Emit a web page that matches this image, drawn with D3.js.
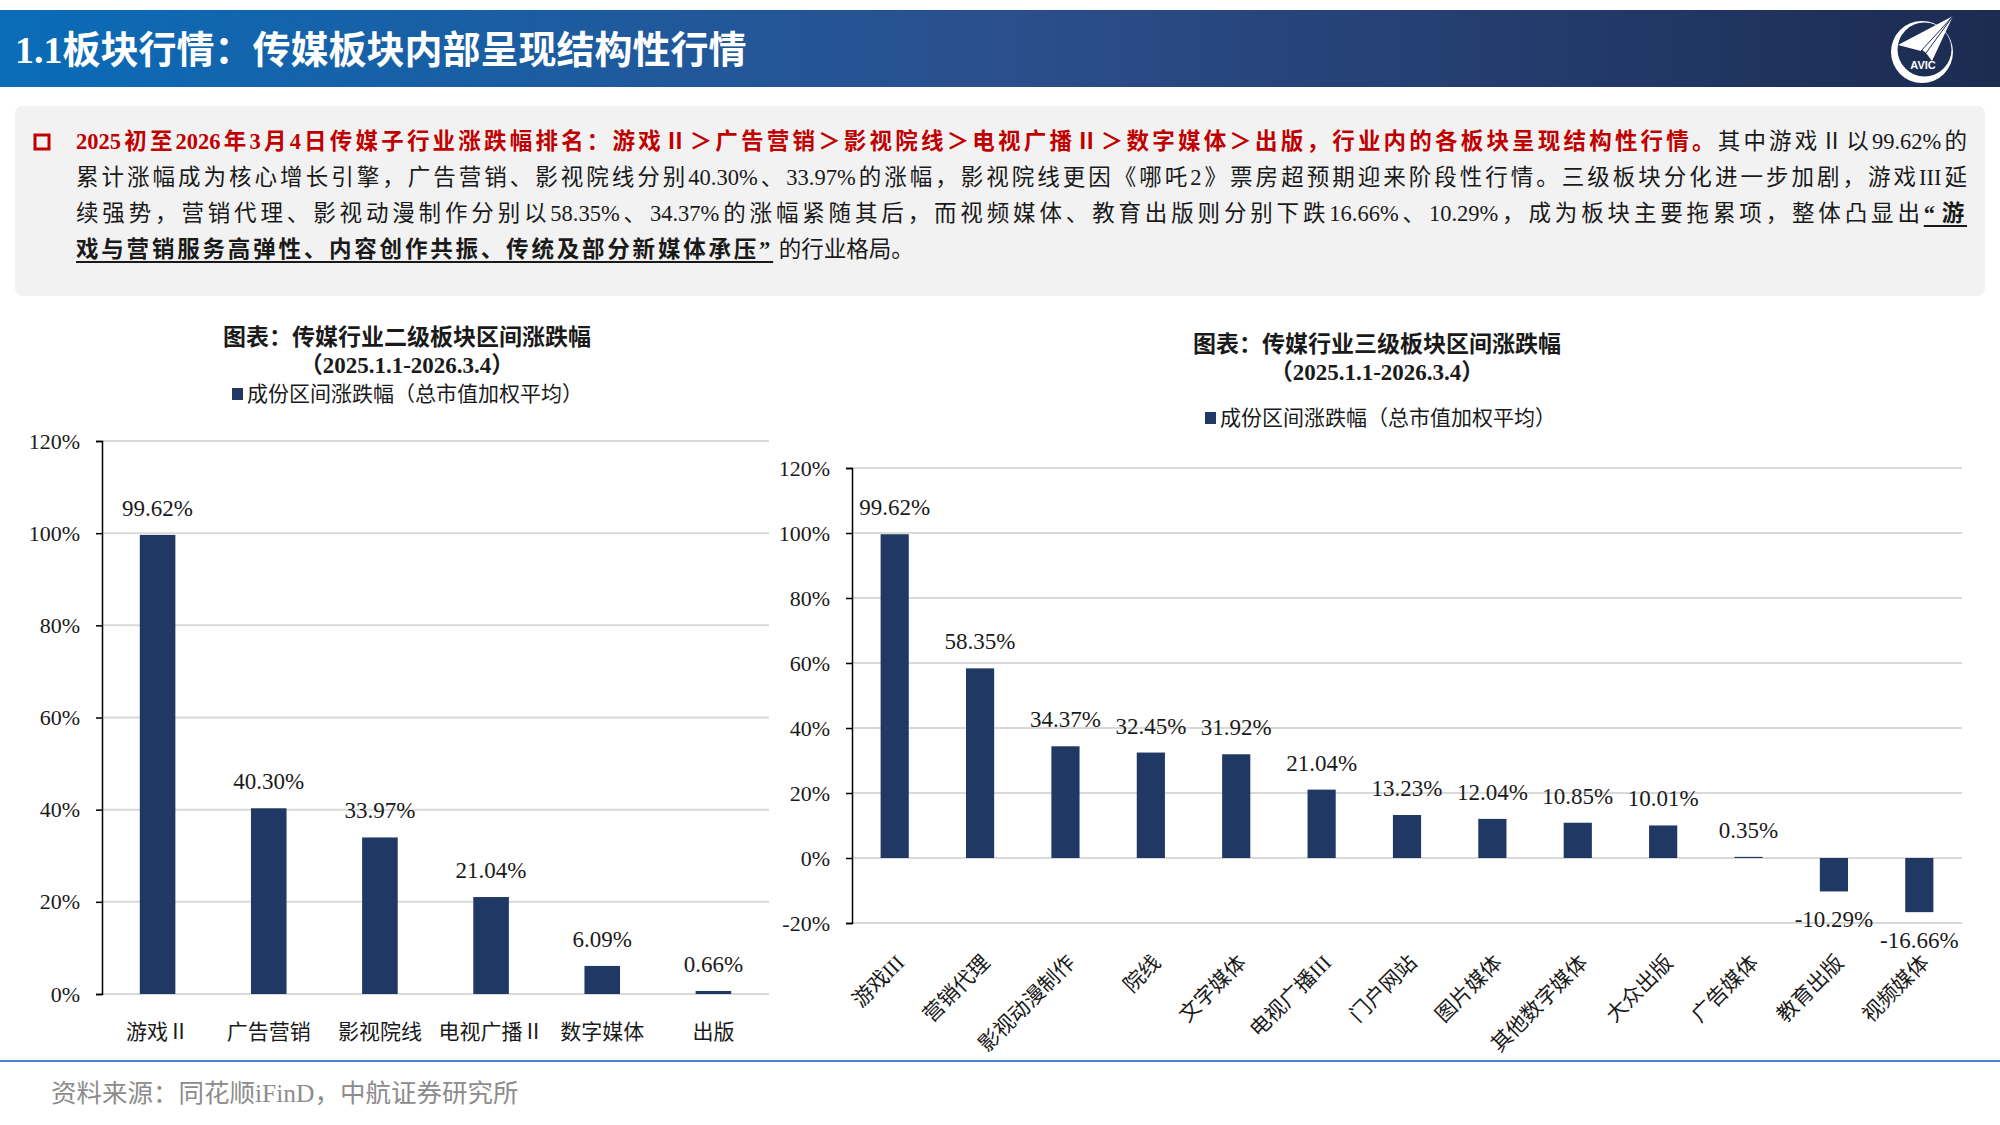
<!DOCTYPE html>
<html>
<head>
<meta charset="utf-8">
<script src="https://cdn.jsdelivr.net/npm/d3@7"></script>
<style>
  body { margin: 0; background: #fff; }
  #page { position: relative; width: 2000px; height: 1125px; overflow: hidden; font-family: "Liberation Serif", "Noto Sans CJK SC", serif; }
  svg { position: absolute; left: 0; top: 0; }
  .line { position: absolute; left: 76px; width: 1891px; height: 36px; line-height: 36px; font-size: 22.5px; white-space: nowrap; color: #1a1a1a; }
  .just { text-align: justify; text-align-last: justify; }
  .red { color: #c00000; font-weight: bold; }
  .ul { font-weight: bold; text-decoration: underline; text-underline-offset: 4px; letter-spacing: 2.8px; }
</style>
</head>
<body>
<div id="page"></div>
<script>
// left chart: 二级板块
const cats2 = ["游戏Ⅱ", "广告营销", "影视院线", "电视广播Ⅱ", "数字媒体", "出版"];
const vals2 = [99.62, 40.30, 33.97, 21.04, 6.09, 0.66];
const ticks2 = [0, 20, 40, 60, 80, 100, 120];

// right chart: 三级板块
const cats3 = ["游戏III", "营销代理", "影视动漫制作", "院线", "文字媒体", "电视广播III", "门户网站",
  "图片媒体", "其他数字媒体", "大众出版", "广告媒体", "教育出版", "视频媒体"];
const vals3 = [99.62, 58.35, 34.37, 32.45, 31.92, 21.04, 13.23, 12.04, 10.85, 10.01, 0.35, -10.29, -16.66];
const ticks3 = [-20, 0, 20, 40, 60, 80, 100, 120];

const barColor = "#203864";
const gridColor = "#d9d9d9";
const fontFam = '"Liberation Serif", "Noto Sans CJK SC", serif';

const page = d3.select("#page");
const svg = page.append("svg").attr("width", 2000).attr("height", 1125);

// header band
const defs = svg.append("defs");
const grad = defs.append("linearGradient").attr("id", "hdr").attr("x1", "0").attr("x2", "1");
grad.append("stop").attr("offset", "0%").attr("stop-color", "#0a6cb8");
grad.append("stop").attr("offset", "50%").attr("stop-color", "#2b4f8d");
grad.append("stop").attr("offset", "100%").attr("stop-color", "#1c2b50");
svg.append("rect").attr("x", 0).attr("y", 10).attr("width", 2000).attr("height", 77).attr("fill", "url(#hdr)");
svg.append("text").attr("x", 15).attr("y", 63)
  .attr("font-family", fontFam).attr("font-size", 38).attr("font-weight", "bold").attr("fill", "#fff")
  .text("1.1板块行情：传媒板块内部呈现结构性行情");

// logo (AVIC): crescent ring + paper plane
const logo = svg.append("g");
logo.append("path")
  .attr("d", "M1891,52 a31,31 0 1,0 62,0 a31,31 0 1,0 -62,0 Z M1897.5,49.5 a27,27 0 1,0 54,0 a27,27 0 1,0 -54,0 Z")
  .attr("fill", "#fff").attr("fill-rule", "evenodd");
logo.append("path").attr("d", "M1898,45 L1953,16 L1921,51 Z").attr("fill", "#fff");
logo.append("path").attr("d", "M1921,49 L1953,16 L1932,61 L1926,53 Z").attr("fill", "#fff");
logo.append("path").attr("d", "M1921,51 L1953,16 M1926,53 L1953,16").attr("stroke", "#1f3160").attr("stroke-width", 1);
logo.append("text").attr("x", 1923).attr("y", 69).attr("text-anchor", "middle")
  .attr("font-family", "Liberation Sans, sans-serif").attr("font-size", 11).attr("font-weight", "bold")
  .attr("fill", "#fff").text("AVIC");

// text box
svg.append("rect").attr("x", 15).attr("y", 106).attr("width", 1970).attr("height", 190)
  .attr("rx", 8).attr("fill", "#f2f2f2");
svg.append("rect").attr("x", 35).attr("y", 135).attr("width", 14).attr("height", 14)
  .attr("fill", "none").attr("stroke", "#c00000").attr("stroke-width", 3);

const lines = [
  { top: 124, cls: "just", html: '<span class="red">2025初至2026年3月4日传媒子行业涨跌幅排名：游戏Ⅱ＞广告营销＞影视院线＞电视广播Ⅱ＞数字媒体＞出版，行业内的各板块呈现结构性行情。</span>其中游戏Ⅱ以99.62%的' },
  { top: 160, cls: "just", html: '累计涨幅成为核心增长引擎，广告营销、影视院线分别40.30%、33.97%的涨幅，影视院线更因《哪吒2》票房超预期迎来阶段性行情。三级板块分化进一步加剧，游戏III延' },
  { top: 196, cls: "just", html: '续强势，营销代理、影视动漫制作分别以58.35%、34.37%的涨幅紧随其后，而视频媒体、教育出版则分别下跌16.66%、10.29%，成为板块主要拖累项，整体凸显出<span class="ul">“游</span>' },
  { top: 232, cls: "", html: '<span class="ul">戏与营销服务高弹性、内容创作共振、传统及部分新媒体承压”</span>&nbsp;的行业格局。' }
];
lines.forEach(l => {
  page.append("div").attr("class", "line " + l.cls).style("top", l.top + "px").html(l.html);
});

function drawChart(opt) {
  const g = svg.append("g");
  const x = d3.scaleBand().domain(opt.cats).range([opt.x0, opt.x1]).paddingInner(opt.pad).paddingOuter(opt.pad / 2);
  const y = d3.scaleLinear().domain([opt.ticks[0], opt.ticks[opt.ticks.length - 1]]).range([opt.y0, opt.y1]);

  // titles
  g.append("text").attr("x", opt.tx).attr("y", opt.ty).attr("text-anchor", "middle")
    .attr("font-family", fontFam).attr("font-size", 23).attr("font-weight", "bold").attr("fill", "#1a1a1a")
    .text(opt.title);
  g.append("text").attr("x", opt.tx).attr("y", opt.ty + 28).attr("text-anchor", "middle")
    .attr("font-family", fontFam).attr("font-size", 23).attr("font-weight", "bold").attr("fill", "#1a1a1a")
    .text("（2025.1.1-2026.3.4）");

  // legend
  g.append("rect").attr("x", opt.lx).attr("y", opt.ly - 6).attr("width", 11).attr("height", 12).attr("fill", barColor);
  g.append("text").attr("x", opt.lx + 15).attr("y", opt.ly + 7)
    .attr("font-family", fontFam).attr("font-size", 21).attr("fill", "#1a1a1a")
    .text("成份区间涨跌幅（总市值加权平均）");

  // gridlines
  g.selectAll(".grid").data(opt.ticks).enter().append("line")
    .attr("x1", opt.x0).attr("x2", opt.x1)
    .attr("y1", d => y(d)).attr("y2", d => y(d))
    .attr("stroke", gridColor).attr("stroke-width", 2);

  // y axis
  const axis = g.append("g").attr("transform", `translate(${opt.x0},0)`)
    .call(d3.axisLeft(y).tickValues(opt.ticks).tickSize(6).tickPadding(16).tickFormat(d => d + "%"));
  axis.select(".domain").attr("stroke", "#000").attr("stroke-width", 1.5);
  axis.selectAll(".tick line").attr("stroke", "#000").attr("stroke-width", 1.5);
  axis.selectAll(".tick text").attr("font-family", fontFam).attr("font-size", 22).attr("fill", "#1a1a1a");

  // bars
  g.selectAll(".bar").data(opt.vals).enter().append("rect")
    .attr("x", (d, i) => x(opt.cats[i]))
    .attr("width", x.bandwidth())
    .attr("y", d => y(Math.max(0, d)))
    .attr("height", d => Math.abs(y(d) - y(0)))
    .attr("fill", barColor);

  // value labels
  g.selectAll(".val").data(opt.vals).enter().append("text")
    .attr("x", (d, i) => x(opt.cats[i]) + x.bandwidth() / 2)
    .attr("y", d => d >= 0 ? y(d) - 19 : y(d) + 36)
    .attr("text-anchor", "middle")
    .attr("font-family", fontFam).attr("font-size", 23).attr("fill", "#1a1a1a")
    .text(d => d.toFixed(2) + "%");

  // category labels
  const lab = g.selectAll(".cat").data(opt.cats).enter().append("text")
    .attr("font-family", fontFam).attr("font-size", 21).attr("fill", "#1a1a1a")
    .text(d => d);
  if (opt.rotate) {
    lab.attr("text-anchor", "end")
      .attr("transform", d => `translate(${x(d) + x.bandwidth() / 2 + 11},${opt.labY}) rotate(-45)`);
  } else {
    lab.attr("text-anchor", "middle")
      .attr("x", d => x(d) + x.bandwidth() / 2)
      .attr("y", opt.labY);
  }
}

drawChart({
  cats: cats2, vals: vals2, ticks: ticks2,
  x0: 102, x1: 769, y0: 994, y1: 441, pad: 0.68,
  title: "图表：传媒行业二级板块区间涨跌幅", tx: 407, ty: 345,
  lx: 232, ly: 394, labY: 1039, rotate: false
});

drawChart({
  cats: cats3, vals: vals3, ticks: ticks3,
  x0: 852, x1: 1962, y0: 923, y1: 468, pad: 0.67,
  title: "图表：传媒行业三级板块区间涨跌幅", tx: 1377, ty: 352,
  lx: 1205, ly: 418, labY: 964, rotate: true
});

// footer
svg.append("line").attr("x1", 0).attr("x2", 2000).attr("y1", 1061).attr("y2", 1061)
  .attr("stroke", "#4f7fd0").attr("stroke-width", 2);
svg.append("text").attr("x", 51).attr("y", 1102)
  .attr("font-family", fontFam).attr("font-size", 25.5).attr("fill", "#8c8c8c")
  .text("资料来源：同花顺iFinD，中航证券研究所");
</script>
</body>
</html>
